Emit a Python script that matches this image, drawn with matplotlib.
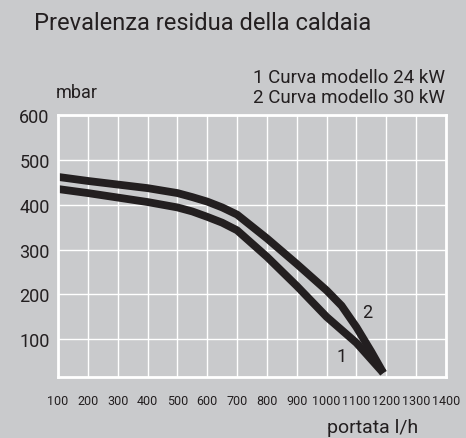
import matplotlib
matplotlib.use("Agg")
from matplotlib import pyplot as plt

# fonts: Roboto for the DIN-like look
plt.rcParams['font.family'] = ['Roboto', 'DejaVu Sans']

bg = '#c9cacc'
ink = '#231f20'

# dati
x_ticks = [100, 200, 300, 400, 500, 600, 700, 800, 900, 1000, 1100, 1200, 1300, 1400]
y_ticks = [100, 200, 300, 400, 500, 600]

# curva 1 - modello 24 kW
x_24 = [100, 200, 300, 400, 500, 550, 600, 650, 700, 800, 900, 1000, 1100, 1190]
y_24 = [435, 426, 416, 406, 394, 385, 373, 360, 343, 284, 219, 150, 92, 25]

# curva 2 - modello 30 kW
x_30 = [100, 200, 300, 400, 500, 550, 600, 650, 700, 800, 900, 1000, 1050, 1100, 1150, 1190]
y_30 = [462, 453, 445, 437, 426, 417, 407, 394, 378, 325, 268, 209, 175, 127, 72, 25]

fig = plt.figure(figsize=(4.66, 4.39), dpi=100, facecolor=bg)
ax = fig.add_axes([58/466, 61/439, 388/466, 262/439], facecolor=bg)

ax.plot(x_30, y_30, color=ink, lw=5.6, solid_capstyle='butt', solid_joinstyle='round')
ax.plot(x_24, y_24, color=ink, lw=5.6, solid_capstyle='butt', solid_joinstyle='round')

ax.text(1050, 63, '1', color=ink, fontsize=13, ha='center', va='center')
ax.text(1135, 162, '2', color=ink, fontsize=13, ha='center', va='center')

ax.set_xlim(100, 1400)
ax.set_ylim(16, 600)
ax.set_xticks(x_ticks)
ax.set_yticks(y_ticks)
ax.tick_params(axis='x', length=0, pad=12, labelsize=9, colors=ink)
ax.tick_params(axis='y', length=0, pad=6, labelsize=13, colors=ink)
ax.grid(True, color='white', lw=1)
ax.set_axisbelow(True)
for s in ax.spines.values():
    s.set_color('white')
    s.set_linewidth(2)

# descrizioni
fig.text(34/466, 1 - 23/439, 'Prevalenza residua della caldaia', fontsize=17, color=ink, va='center')
fig.text(56/466, 1 - 93/439, 'mbar', fontsize=13, color=ink, va='center')
fig.text(445/466, 1 - 78/439, '1 Curva modello 24 kW', fontsize=13.5, color=ink, va='center', ha='right')
fig.text(445/466, 1 - 98/439, '2 Curva modello 30 kW', fontsize=13.5, color=ink, va='center', ha='right')
fig.text(418/466, 1 - 428/439, 'portata l/h', fontsize=14, color=ink, va='center', ha='right')

fig.savefig('out.png', dpi=100, facecolor=bg)
